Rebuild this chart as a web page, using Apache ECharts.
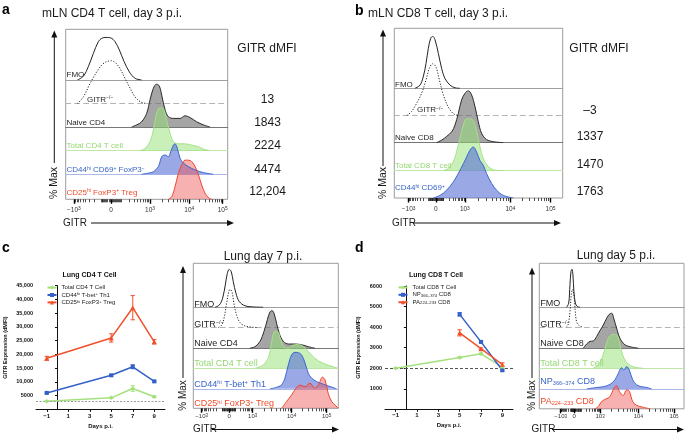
<!DOCTYPE html>
<html>
<head>
<meta charset="utf-8">
<script src="https://cdn.jsdelivr.net/npm/echarts@6.0.0/dist/echarts.min.js"></script>
<style>
html,body{margin:0;padding:0;background:#fff;}
#chart{width:685px;height:436px;}
</style>
</head>
<body>
<div id="chart"></div>
<script>
// ================= DATA =================
// GITR axis tick labels (biexponential display)
const tickBase = ['−10', '0', '10', '10', '10'];
const tickExp  = ['3', '', '3', '4', '5'];
// display channel (0–1024) of each major tick, per panel
const aTicks = [52, 286, 533, 781, 992];
const bTicks = [87, 253, 429, 706, 950];
const cTicks = [59, 254, 419, 694, 941];
const dTicks = [151, 246, 430, 701, 953];

// ---- panel a histograms: [channel, % of max]
const aFMO   = [[74,0],[112,9],[143,31],[175,62],[206,89],[228,97],[255,99],[284,98],[312,89],[339,70],[369,43],[402,19],[438,4],[480,0]];
const aKO    = [[74,0],[112,16],[154,47],[196,74],[228,90],[259,98],[287,100],[312,96],[343,82],[375,59],[407,36],[438,16],[470,5],[512,0]];
const aNaive = [[417,0],[449,5],[480,12],[512,32],[533,63],[554,90],[575,100],[592,95],[607,74],[628,40],[649,24],[681,20],[723,20],[754,26],[786,22],[828,12],[870,5],[912,0]];
const aTotal = [[470,0],[501,5],[533,21],[554,48],[575,87],[596,100],[617,98],[638,71],[660,40],[681,21],[712,16],[754,16],[796,13],[839,9],[870,4],[912,0]];
const aAct   = [[480,0],[512,2],[554,6],[586,18],[607,41],[628,45],[649,41],[664,53],[681,68],[691,71],[706,60],[723,37],[744,26],[775,18],[818,10],[870,4],[933,0]];
const aTreg  = [[649,0],[670,6],[691,29],[712,60],[733,80],[754,91],[775,91],[796,88],[818,76],[839,57],[860,33],[881,14],[902,4],[923,0]];
const aDMFI  = ['13', '1843', '2224', '4474', '12,204'];

// ---- panel b histograms
const bFMO   = [[126,0],[156,6],[176,22],[193,48],[207,77],[221,96],[233,100],[247,94],[268,67],[288,38],[308,19],[339,6],[369,1],[399,0]];
const bKO    = [[75,0],[105,8],[136,24],[166,43],[193,69],[213,91],[233,100],[253,94],[274,69],[298,40],[328,17],[359,4],[389,0]];
const bNaive = [[257,0],[288,5],[318,12],[349,21],[369,34],[389,56],[409,82],[430,95],[450,100],[470,92],[491,69],[511,40],[531,18],[561,6],[602,2],[663,0]];
const bTotal = [[298,0],[328,4],[359,17],[379,37],[399,62],[420,88],[440,100],[464,100],[484,94],[501,75],[521,46],[541,24],[572,8],[612,1],[663,0]];
const bAct   = [[237,0],[278,5],[318,15],[359,31],[389,47],[420,66],[440,79],[460,92],[480,98],[501,88],[521,72],[541,63],[561,47],[592,28],[622,15],[663,5],[724,0]];
const bDMFI  = ['–3', '1337', '1470', '1763'];

// ---- panel c histograms (lung day 7)
const cFMO   = [[153,0],[184,6],[207,24],[226,59],[240,89],[254,100],[268,94],[282,68],[301,37],[325,15],[365,4],[424,1],[494,0]];
const cKO    = [[177,0],[200,6],[219,28],[235,63],[250,94],[259,100],[273,94],[287,63],[306,32],[330,13],[365,4],[412,1],[447,0]];
const cNaive = [[400,0],[436,4],[471,18],[499,44],[523,75],[541,95],[556,99],[570,92],[588,66],[607,39],[636,18],[671,11],[718,11],[765,9],[812,4],[859,0]];
const cTotal = [[436,0],[471,4],[506,13],[537,35],[560,83],[579,98],[600,95],[617,75],[640,57],[671,53],[706,61],[742,63],[777,57],[812,44],[859,26],[918,13],[989,4],[1024,0]];
const cTh1   = [[541,0],[589,4],[624,11],[647,28],[671,63],[694,89],[718,96],[742,95],[765,89],[789,68],[812,41],[836,28],[871,19],[918,12],[965,6],[1012,0]];
const cTreg  = [[624,0],[659,18],[694,35],[725,53],[753,61],[789,57],[824,66],[859,53],[883,61],[913,82],[930,75],[953,39],[977,18],[1000,9],[1024,0]];

// ---- panel d histograms (lung day 5)
const dFMO   = [[193,0],[208,11],[217,59],[224,94],[231,100],[238,85],[245,41],[255,11],[269,2],[288,0]];
const dKO    = [[189,0],[205,8],[217,41],[226,85],[236,100],[245,85],[255,41],[264,15],[283,4],[311,0]];
const dNaive = [[311,0],[335,11],[359,18],[382,19],[406,31],[429,46],[453,61],[477,79],[495,89],[512,92],[528,77],[547,53],[571,26],[606,9],[653,3],[701,0]];
const dTotal = [[382,0],[418,9],[448,31],[472,61],[495,83],[524,89],[552,86],[571,61],[590,35],[613,18],[646,7],[689,2],[736,0]];
const dNP    = [[335,0],[406,4],[453,6],[500,12],[535,24],[559,41],[583,56],[599,50],[618,59],[637,50],[661,24],[689,11],[724,6],[760,4],[795,0]];
const dPA    = [[394,0],[418,6],[441,19],[472,26],[500,32],[528,54],[547,61],[566,46],[594,35],[618,50],[637,46],[661,19],[689,9],[736,4],[783,0]];

// ---- line charts
const dayTicks = [-1, 1, 3, 5, 7, 9];
const cDays = [-1, 5, 7, 9];
const cLineTotal = [3000, 4200, 7600, 4600];
const cLineTotalErr = [150, 250, 1000, 300];
const cLineTh1 = [6000, 12400, 15500, 10200];
const cLineTh1Err = [300, 300, 700, 300];
const cLineTreg = [18600, 26000, 37000, 24600];
const cLineTregErr = [700, 1500, 4400, 800];
const cBaseline = 3000;

const dDaysTotal = [-1, 5, 7, 9];
const dLineTotal = [2000, 2520, 2700, 2050];
const dLineTotalErr = [20, 40, 40, 50];
const dDaysAg = [5, 7, 9];
const dLineNP = [4620, 3280, 1900];
const dLineNPErr = [80, 50, 50];
const dLinePA = [3720, 2950, 2180];
const dLinePAErr = [150, 40, 80];
const dBaseline = 2000;

// ================= BUILD =================
const FONT = '"Liberation Sans", Arial, Helvetica, sans-serif';
const GREEN = '#a5e07e', BLUE = '#3560c8', RED = '#f2502a';
const option = {animation:false, textStyle:{fontFamily:FONT}, grid:[], xAxis:[], yAxis:[], series:[], legend:[], graphic:[]};
const G = option.graphic;

function txt(x, y, t, o) {
  o = o || {};
  const size = o.size || 10;
  G.push({type:'text', x:x, y:y, rotation:o.rot || 0, z:100, silent:true,
    style:{text:t, fontSize:size, fontFamily:FONT, fontWeight:o.bold ? 'bold' : 'normal',
      fill:o.color || '#1a1a1a', align:o.align || 'left', verticalAlign:'middle',
      rich:{s:{fontSize:size*0.62, verticalAlign:'top', fontFamily:FONT},
            b:{fontSize:size*0.62, verticalAlign:'bottom', fontFamily:FONT}}}});
}
function arrowV(x, yTip, yBottom) {
  G.push({type:'line', z:100, silent:true, shape:{x1:x, y1:yBottom, x2:x, y2:yTip+5}, style:{stroke:'#111', lineWidth:1}});
  G.push({type:'polygon', z:100, silent:true, shape:{points:[[x, yTip], [x-3, yTip+7], [x+3, yTip+7]]}, style:{fill:'#111'}});
}
function arrowH(x1, xTip, y) {
  G.push({type:'line', z:100, silent:true, shape:{x1:x1, y1:y, x2:xTip-5, y2:y}, style:{stroke:'#111', lineWidth:1}});
  G.push({type:'polygon', z:100, silent:true, shape:{points:[[xTip, y], [xTip-7, y-3], [xTip-7, y+3]]}, style:{fill:'#111'}});
}
function minorTicks(t) {
  const out = [];
  const w = 120, A = Math.asinh(1000 / w);
  const lin = v => v >= 0 ? t[1] + (t[2]-t[1]) * Math.asinh(v/w) / A : t[1] - (t[1]-t[0]) * Math.asinh(-v/w) / A;
  for (let k = 1; k < 10; k++) { out.push(lin(k*10), lin(-k*10), lin(k*100), lin(-k*100)); }
  for (let d = 0; d < 2; d++) for (let k = 2; k < 10; k++) out.push(t[2+d] + (t[3+d]-t[2+d]) * Math.log10(k));
  return out.filter(v => v >= 0 && v <= 1024).map(v => Math.round(v*10)/10);
}
function histPanel(box, h, ticks, rows, lm, ls) {
  const gi = option.grid.length;
  option.grid.push({left:box.l, top:box.t, width:box.w, height:box.h, show:true, borderColor:'#9c9c9c', borderWidth:1, backgroundColor:'rgba(0,0,0,0)'});
  option.xAxis.push({gridIndex:gi, type:'value', min:0, max:1024, position:'bottom', axisLine:{show:false}, splitLine:{show:false}, axisLabel:{show:false},
    axisTick:{show:true, customValues:minorTicks(ticks), length:3, lineStyle:{color:'#222', width:0.8}}});
  option.xAxis.push({gridIndex:gi, type:'value', min:0, max:1024, position:'bottom', axisLine:{show:false}, splitLine:{show:false},
    axisTick:{show:true, customValues:ticks, length:4.5, lineStyle:{color:'#000', width:1.4}},
    axisLabel:{show:true, customValues:ticks, margin:lm, fontSize:ls, color:'#333',
      formatter:v => { const i = ticks.indexOf(v); return tickBase[i] + (tickExp[i] ? '{s|' + tickExp[i] + '}' : ''); },
      rich:{s:{fontSize:ls*0.75, verticalAlign:'top', color:'#333'}}}});
  option.yAxis.push({gridIndex:gi, type:'value', show:false, min:0, max:1});
  rows.forEach(r => {
    const g = option.grid.length;
    option.grid.push({left:box.l, top:r.base - h, width:box.w, height:h});
    const xi = option.xAxis.length, yi = option.yAxis.length;
    option.xAxis.push({gridIndex:g, type:'value', min:0, max:1024, splitLine:{show:false}, axisTick:{show:false}, axisLabel:{show:false},
      axisLine:{show:!!r.axis, lineStyle:{color:r.axis || '#999', type:r.axisDash || 'solid', width:1}}});
    option.yAxis.push({gridIndex:g, type:'value', min:0, max:100, show:false});
    const s = {type:'line', xAxisIndex:xi, yAxisIndex:yi, data:r.data, smooth:0.35, symbol:'none', silent:true,
      lineStyle:{color:r.line, width:1, type:r.dash || 'solid'}};
    if (r.fill) s.areaStyle = {color:r.fill, opacity:1};
    option.series.push(s);
  });
}

const NAIVE_FILL = 'rgba(110,110,110,0.62)', GREEN_FILL = 'rgba(147,225,115,0.5)', BLUE_FILL = 'rgba(87,110,213,0.6)', RED_FILL = 'rgba(239,83,83,0.45)';
const HG = '#a6e08a', HB = '#3b66d1', HR = '#f0452a';

// ---- Panel a
histPanel({l:65.7, t:29.3, w:162, h:170}, 43, aTicks, [
  {base:80,    data:aFMO,   line:'#222', axis:'#a0a0a0'},
  {base:103.7, data:aKO,    line:'#222', dash:[1.2,1.6], axis:'#b4b4b4', axisDash:[5,4]},
  {base:127,   data:aNaive, line:'#2a2a2a', fill:NAIVE_FILL, axis:'#777'},
  {base:150.7, data:aTotal, line:HG, fill:GREEN_FILL, axis:'#bfe8a8'},
  {base:174.3, data:aAct,   line:HB, fill:BLUE_FILL, axis:'#aab8ea'},
  {base:199.3, data:aTreg,  line:HR, fill:RED_FILL}
], 7, 6.5);
// ---- Panel b
histPanel({l:394.3, t:28.3, w:168.4, h:169.7}, 52, bTicks, [
  {base:88.3,  data:bFMO,   line:'#222', axis:'#a0a0a0'},
  {base:115.7, data:bKO,    line:'#222', dash:[1.2,1.6], axis:'#b4b4b4', axisDash:[5,4]},
  {base:142.7, data:bNaive, line:'#2a2a2a', fill:NAIVE_FILL, axis:'#777'},
  {base:170.7, data:bTotal, line:HG, fill:GREEN_FILL, axis:'#bfe8a8'},
  {base:198,   data:bAct,   line:HB, fill:BLUE_FILL}
], 8, 6.5);
// ---- Panel c histograms
histPanel({l:193.3, t:263.3, w:145, h:145}, 38, cTicks, [
  {base:307.3, data:cFMO,   line:'#222', axis:'#a0a0a0'},
  {base:327.5, data:cKO,    line:'#222', dash:[1.2,1.6], axis:'#b4b4b4', axisDash:[5,4]},
  {base:348.2, data:cNaive, line:'#2a2a2a', fill:NAIVE_FILL, axis:'#777'},
  {base:368.3, data:cTotal, line:HG, fill:GREEN_FILL, axis:'#bfe8a8'},
  {base:388.8, data:cTh1,   line:HB, fill:BLUE_FILL, axis:'#aab8ea'},
  {base:408.3, data:cTreg,  line:HR, fill:RED_FILL}
], 5, 6);
// ---- Panel d histograms
histPanel({l:539.3, t:263.3, w:144.7, h:145.5}, 38, dTicks, [
  {base:307.3, data:dFMO,   line:'#222', axis:'#a0a0a0'},
  {base:327.3, data:dKO,    line:'#222', dash:[1.2,1.6], axis:'#b4b4b4', axisDash:[5,4]},
  {base:348.2, data:dNaive, line:'#2a2a2a', fill:NAIVE_FILL, axis:'#777'},
  {base:368.3, data:dTotal, line:HG, fill:GREEN_FILL, axis:'#bfe8a8'},
  {base:389,   data:dNP,    line:HB, fill:BLUE_FILL, axis:'#aab8ea'},
  {base:408.8, data:dPA,    line:HR, fill:RED_FILL}
], 5, 6);

// ---- line charts
function lineGrid(box, yMax, yInt, nameGap) {
  const gi = option.grid.length;
  option.grid.push({left:box.l, top:box.t, width:box.w, height:box.h});
  const xi = option.xAxis.length, yi = option.yAxis.length;
  option.xAxis.push({gridIndex:gi, type:'value', min:-2, max:10,
    axisLine:{show:true, onZero:false, lineStyle:{color:'#111', width:1}}, splitLine:{show:false},
    axisTick:{show:true, customValues:dayTicks, length:2.5, lineStyle:{color:'#111'}},
    axisLabel:{customValues:dayTicks, fontSize:6, fontWeight:'bold', color:'#111', margin:3.5, formatter:v => v < 0 ? '−' + (-v) : '' + v},
    name:'Days p.i.', nameLocation:'middle', nameGap:13.5, nameTextStyle:{fontSize:6, fontWeight:'bold', color:'#111'}});
  option.yAxis.push({gridIndex:gi, type:'value', min:0, max:yMax, interval:yInt,
    axisLine:{show:true, lineStyle:{color:'#111', width:1}}, splitLine:{show:false},
    axisTick:{show:true, length:2.5, lineStyle:{color:'#111'}},
    axisLabel:{fontSize:5.5, fontWeight:'bold', color:'#111', margin:3, formatter:v => v === 0 ? '' : (v >= 10000 ? v.toLocaleString('en-US') : '' + v)},
    name:'GITR Expression (dMFI)', nameLocation:'middle', nameGap:nameGap, nameTextStyle:{fontSize:5.5, fontWeight:'bold', color:'#111'}});
  return {xi, yi};
}
function lineSeries(ax, name, xs, ys, color, symbol, size, base) {
  const s = {type:'line', name:name, xAxisIndex:ax.xi, yAxisIndex:ax.yi, data:xs.map((x, i) => [x, ys[i]]),
    symbol:symbol, symbolSize:size, showAllSymbol:true, lineStyle:{color:color, width:1.5}, itemStyle:{color:color}, z:4, silent:true};
  if (base !== undefined) s.markLine = base;
  option.series.push(s);
}
function errSeries(ax, xs, ys, es, color) {
  option.series.push({type:'custom', xAxisIndex:ax.xi, yAxisIndex:ax.yi, silent:true, z:5,
    data:xs.map((x, i) => [x, ys[i], es[i]]),
    renderItem:(params, api) => {
      const x = api.value(0), y = api.value(1), e = api.value(2);
      const hi = api.coord([x, y + e]), lo = api.coord([x, y - e]);
      const w = 2.2, st = {stroke:color, lineWidth:1};
      return {type:'group', children:[
        {type:'line', shape:{x1:hi[0], y1:hi[1], x2:lo[0], y2:lo[1]}, style:st},
        {type:'line', shape:{x1:hi[0]-w, y1:hi[1], x2:hi[0]+w, y2:hi[1]}, style:st},
        {type:'line', shape:{x1:lo[0]-w, y1:lo[1], x2:lo[0]+w, y2:lo[1]}, style:st}]};
    }});
}
const cAx = lineGrid({l:36, t:285.7, w:129, h:123.7}, 45000, 5000, 28);
lineSeries(cAx, 'Total CD4 T Cell', cDays, cLineTotal, GREEN, 'diamond', 4.5,
  {silent:true, symbol:'none', label:{show:false}, lineStyle:{color:'#9a9a9a', type:[2,1.5], width:1.2}, data:[{yAxis:cBaseline}]});
lineSeries(cAx, 'CD44hi T-bet+ Th1', cDays, cLineTh1, BLUE, 'rect', 4);
lineSeries(cAx, 'CD25hi FoxP3+ Treg', cDays, cLineTreg, RED, 'triangle', 5);
errSeries(cAx, cDays, cLineTotal, cLineTotalErr, GREEN);
errSeries(cAx, cDays, cLineTh1, cLineTh1Err, BLUE);
errSeries(cAx, cDays, cLineTreg, cLineTregErr, RED);

const dAx = lineGrid({l:385, t:286, w:128, h:123.3}, 6000, 1000, 23.5);
lineSeries(dAx, 'Total CD8 T Cell', dDaysTotal, dLineTotal, GREEN, 'diamond', 4.5,
  {silent:true, symbol:'none', label:{show:false}, lineStyle:{color:'#555', type:[3,2], width:1}, data:[{yAxis:dBaseline}]});
lineSeries(dAx, 'NP366–374 CD8', dDaysAg, dLineNP, BLUE, 'rect', 4);
lineSeries(dAx, 'PA224–233 CD8', dDaysAg, dLinePA, RED, 'triangle', 5);
errSeries(dAx, dDaysTotal, dLineTotal, dLineTotalErr, GREEN);
errSeries(dAx, dDaysAg, dLineNP, dLineNPErr, BLUE);
errSeries(dAx, dDaysAg, dLinePA, dLinePAErr, RED);

const legendRich = {
  'Total CD4 T Cell':'Total CD4 T Cell', 'CD44hi T-bet+ Th1':'CD44{s|hi} T-bet{s|+} Th1', 'CD25hi FoxP3+ Treg':'CD25{s|hi} FoxP3{s|+} Treg',
  'Total CD8 T Cell':'Total CD8 T Cell', 'NP366–374 CD8':'NP{b|366–374} CD8', 'PA224–233 CD8':'PA{b|224–233} CD8'};
function legend(left, top, names) {
  option.legend.push({left:left, top:top, orient:'vertical', itemGap:1.4, itemWidth:9, itemHeight:5, padding:0, selectedMode:false,
    data:names, formatter:n => legendRich[n],
    textStyle:{fontSize:6, color:'#222', fontFamily:FONT,
      rich:{s:{fontSize:4.2, verticalAlign:'top', color:'#222'}, b:{fontSize:4.2, verticalAlign:'bottom', color:'#222'}}}});
}
legend(46.5, 284.6, ['Total CD4 T Cell', 'CD44hi T-bet+ Th1', 'CD25hi FoxP3+ Treg']);
legend(397.5, 284.4, ['Total CD8 T Cell', 'NP366–374 CD8', 'PA224–233 CD8']);

// ---- texts
txt(2, 10, 'a', {size:14, bold:true, color:'#000'});
txt(355, 11, 'b', {size:14, bold:true, color:'#000'});
txt(2, 248, 'c', {size:14, bold:true, color:'#000'});
txt(355, 248, 'd', {size:14, bold:true, color:'#000'});
txt(42, 13.5, 'mLN CD4 T cell, day 3 p.i.', {size:12});
txt(368, 14, 'mLN CD8 T cell, day 3 p.i.', {size:12});
txt(263, 257, 'Lung day 7 p.i.', {size:12, align:'center'});
txt(616, 255.5, 'Lung day 5 p.i.', {size:12, align:'center'});
txt(89.5, 275, 'Lung CD4 T Cell', {size:7, bold:true, align:'center', color:'#111'});
txt(436, 275, 'Lung CD8 T Cell', {size:7, bold:true, align:'center', color:'#111'});

txt(267, 49, 'GITR dMFI', {size:12, align:'center'});
[99.3, 122.3, 145.7, 169.3, 191.7].forEach((y, i) => txt(267.5, y, aDMFI[i], {size:12, align:'center'}));
txt(599, 48.3, 'GITR dMFI', {size:12, align:'center'});
[110.7, 136.7, 165, 191.7].forEach((y, i) => txt(590, y, bDMFI[i], {size:12, align:'center'}));

const BLK = '#1f1f1f', TG = '#95d873', TB = '#3a64c8', TR = '#f04b2a';
// panel a row labels
txt(66.5, 75, 'FMO', {size:8, color:BLK});
txt(87, 99.3, 'GITR{s|−/−}', {size:8, color:BLK});
txt(66.5, 123, 'Naive CD4', {size:8, color:BLK});
txt(66.5, 146, 'Total CD4 T cell', {size:8, color:TG});
txt(66.5, 170, 'CD44{s|hi} CD69{s|+} FoxP3{s|−}', {size:8, color:TB});
txt(66.5, 192.5, 'CD25{s|hi} FoxP3{s|+} Treg', {size:8, color:TR});
// panel b
txt(395, 84.3, 'FMO', {size:8, color:BLK});
txt(417, 110, 'GITR{s|−/−}', {size:8, color:BLK});
txt(395, 137.7, 'Naive CD8', {size:8, color:BLK});
txt(395, 165.7, 'Total CD8 T cell', {size:8, color:TG});
txt(395, 188, 'CD44{s|hi} CD69{s|+}', {size:8, color:TB});
// panel c
txt(194.3, 304.3, 'FMO', {size:9, color:BLK});
txt(194.3, 324.3, 'GITR{s|−/−}', {size:9, color:BLK});
txt(194.3, 343.5, 'Naive CD4', {size:9, color:BLK});
txt(194.3, 363.5, 'Total CD4 T cell', {size:9, color:TG});
txt(194.3, 384.3, 'CD44{s|hi} T-bet{s|+} Th1', {size:9, color:TB});
txt(194.3, 404, 'CD25{s|hi} FoxP3{s|+} Treg', {size:9, color:TR});
// panel d
txt(540.3, 303.5, 'FMO', {size:9, color:BLK});
txt(540.3, 324.3, 'GITR{s|−/−}', {size:9, color:BLK});
txt(540.3, 344, 'Naive CD8', {size:9, color:BLK});
txt(540.3, 363.5, 'Total CD8 T cell', {size:9, color:TG});
txt(540.3, 382, 'NP{b|366–374} CD8', {size:9, color:TB});
txt(540.3, 402, 'PA{b|224–233} CD8', {size:9, color:TR});

// axis arrows
arrowV(54.3, 30.5, 163); txt(54.3, 183, '% Max', {size:10.5, rot:Math.PI/2, align:'center'});
arrowV(383, 29.5, 166); txt(383, 183, '% Max', {size:10.5, rot:Math.PI/2, align:'center'});
arrowV(183, 266, 378); txt(183, 395.5, '% Max', {size:10, rot:Math.PI/2, align:'center'});
arrowV(532, 267.5, 378); txt(532, 395.5, '% Max', {size:10, rot:Math.PI/2, align:'center'});
txt(63, 223, 'GITR', {size:10}); arrowH(91, 234, 223);
txt(392, 223, 'GITR', {size:10}); arrowH(413, 561, 223);
txt(193, 429.5, 'GITR', {size:10}); arrowH(212, 339, 429.5);
txt(531.5, 429.5, 'GITR', {size:10}); arrowH(552, 684, 429.5);

const chart = echarts.init(document.getElementById('chart'), null, {renderer:'canvas'});
chart.setOption(option);
</script>
</body>
</html>
